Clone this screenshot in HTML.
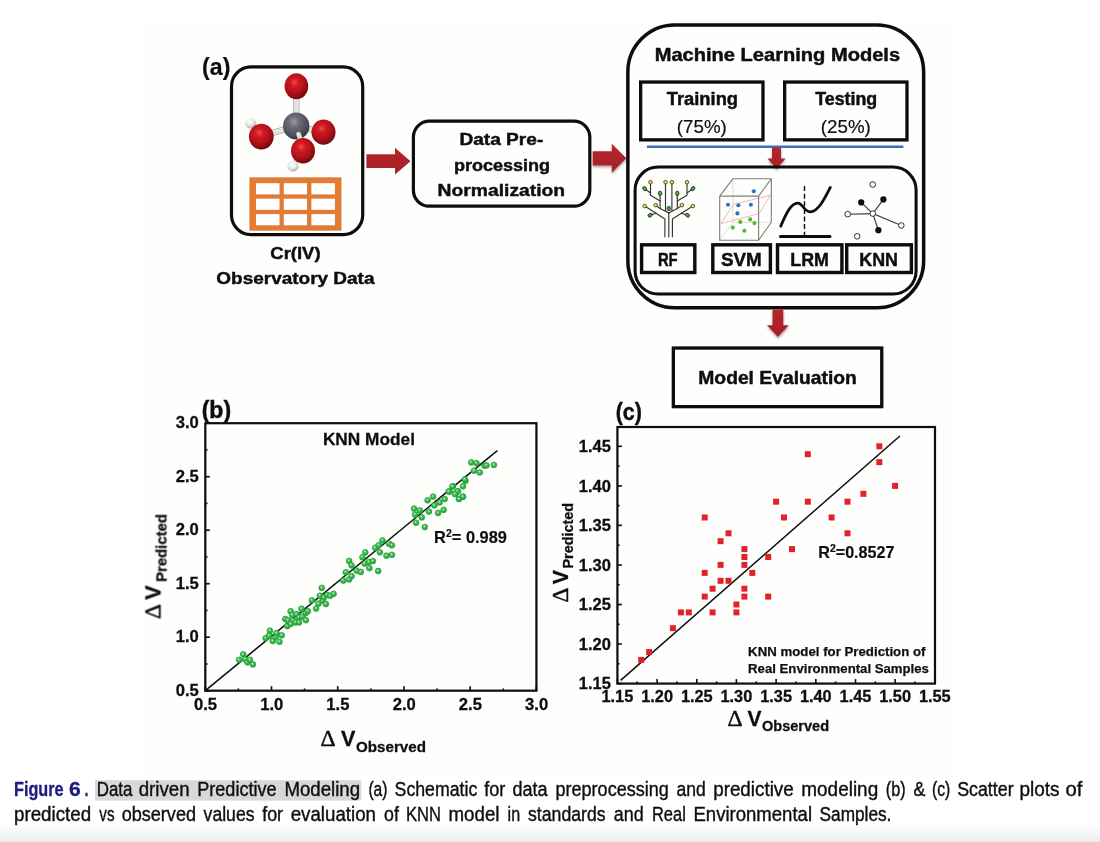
<!DOCTYPE html>
<html><head><meta charset="utf-8"><title>Figure 6</title>
<style>
html,body{margin:0;padding:0;background:#fff;}
body{width:1100px;height:842px;position:relative;overflow:hidden;font-family:"Liberation Sans", sans-serif;}
</style></head><body>
<svg width="1100" height="842" viewBox="0 0 1100 842" style="position:absolute;left:0;top:0" font-family='"Liberation Sans", sans-serif'>
<defs>
<radialGradient id="gRed" cx="0.42" cy="0.35" r="0.65"><stop offset="0" stop-color="#f04a48"/><stop offset="0.25" stop-color="#d01c22"/><stop offset="0.7" stop-color="#a90f16"/><stop offset="1" stop-color="#6d060b"/></radialGradient>
<radialGradient id="gGray" cx="0.42" cy="0.35" r="0.65"><stop offset="0" stop-color="#9a9aa6"/><stop offset="0.3" stop-color="#6e6e7a"/><stop offset="0.8" stop-color="#4c4c58"/><stop offset="1" stop-color="#33333d"/></radialGradient>
<radialGradient id="gWhite" cx="0.42" cy="0.35" r="0.7"><stop offset="0" stop-color="#ffffff"/><stop offset="0.5" stop-color="#e9e9e6"/><stop offset="1" stop-color="#a9a9a4"/></radialGradient>
<radialGradient id="gGreen" cx="0.42" cy="0.38" r="0.6"><stop offset="0" stop-color="#d6f3d9"/><stop offset="0.3" stop-color="#62c770"/><stop offset="0.6" stop-color="#36b449"/><stop offset="1" stop-color="#2aa83e"/></radialGradient>
<linearGradient id="gArrow" x1="0" y1="0" x2="0" y2="1"><stop offset="0" stop-color="#b3262c"/><stop offset="1" stop-color="#a92027"/></linearGradient>
<linearGradient id="gBottom" x1="0" y1="0" x2="0" y2="1"><stop offset="0" stop-color="#ffffff"/><stop offset="1" stop-color="#ececec"/></linearGradient>
<filter id="sh" x="-20%" y="-20%" width="150%" height="150%"><feDropShadow dx="0.2" dy="1.7" stdDeviation="1.1" flood-color="#1a2a2a" flood-opacity="0.4"/></filter>
<filter id="soft"><feGaussianBlur stdDeviation="0.55"/></filter>
<filter id="soft2"><feGaussianBlur stdDeviation="0.3"/></filter>
</defs>
<rect x="0" y="0" width="1100" height="842" fill="#ffffff"/>
<rect x="142" y="23" width="811" height="753" fill="#fefefd"/>
<rect x="0" y="825" width="1100" height="17" fill="url(#gBottom)"/>
<g filter="url(#soft)">
<text x="202.10" y="74.80" font-size="23.5" font-weight="bold" fill="#0d0d0d" stroke="#0d0d0d" stroke-width="0.2" stroke-linejoin="round" textLength="28.29" lengthAdjust="spacingAndGlyphs" >(a)</text>
<rect x="231.50" y="66.90" width="131.20" height="167.70" rx="19.5" ry="19.5" fill="none" stroke="#0a0a0a" stroke-width="3.2"/>
<line x1="296.3" y1="124" x2="296.4" y2="90" stroke="#8f8f8a" stroke-width="6" stroke-linecap="round"/>
<line x1="296.3" y1="124" x2="296.4" y2="90" stroke="#e4e4df" stroke-width="5" stroke-linecap="round"/>
<line x1="296.3" y1="126" x2="262" y2="136" stroke="#8f8f8a" stroke-width="6" stroke-linecap="round"/>
<line x1="296.3" y1="126" x2="262" y2="136" stroke="#e4e4df" stroke-width="5" stroke-linecap="round"/>
<line x1="296.3" y1="126" x2="322" y2="132" stroke="#8f8f8a" stroke-width="6" stroke-linecap="round"/>
<line x1="296.3" y1="126" x2="322" y2="132" stroke="#e4e4df" stroke-width="5" stroke-linecap="round"/>
<line x1="262" y1="136" x2="251" y2="123.5" stroke="#8f8f8a" stroke-width="4" stroke-linecap="round"/>
<line x1="262" y1="136" x2="251" y2="123.5" stroke="#e4e4df" stroke-width="3" stroke-linecap="round"/>
<line x1="302.8" y1="150" x2="293.5" y2="164.5" stroke="#8f8f8a" stroke-width="4" stroke-linecap="round"/>
<line x1="302.8" y1="150" x2="293.5" y2="164.5" stroke="#e4e4df" stroke-width="3" stroke-linecap="round"/>
<ellipse cx="250.6" cy="123.1" rx="5.4" ry="5.4" fill="url(#gWhite)"/>
<ellipse cx="296.4" cy="86.3" rx="11.8" ry="13" fill="url(#gRed)"/>
<ellipse cx="261.3" cy="136.6" rx="12.4" ry="12.8" fill="url(#gRed)"/>
<ellipse cx="323.5" cy="132.2" rx="12" ry="12.6" fill="url(#gRed)"/>
<ellipse cx="296.2" cy="126.0" rx="13.2" ry="13.6" fill="url(#gGray)"/>
<line x1="298.5" y1="134" x2="301.5" y2="142" stroke="#8f8f8a" stroke-width="5" stroke-linecap="round"/>
<line x1="298.5" y1="134" x2="301.5" y2="142" stroke="#e4e4df" stroke-width="4" stroke-linecap="round"/>
<ellipse cx="303.0" cy="150.8" rx="12" ry="12.8" fill="url(#gRed)"/>
<ellipse cx="293.0" cy="166.2" rx="5.5" ry="5.5" fill="url(#gWhite)"/>
<rect x="249.4" y="177.3" width="92.1" height="53.4" fill="#e27b36"/>
<rect x="256" y="183.2" width="23.5" height="11.2" fill="#fff"/>
<rect x="256" y="198.7" width="23.5" height="11.1" fill="#fff"/>
<rect x="256" y="214.1" width="23.5" height="11.2" fill="#fff"/>
<rect x="283.8" y="183.2" width="23.2" height="11.2" fill="#fff"/>
<rect x="283.8" y="198.7" width="23.2" height="11.1" fill="#fff"/>
<rect x="283.8" y="214.1" width="23.2" height="11.2" fill="#fff"/>
<rect x="311.4" y="183.2" width="23.5" height="11.2" fill="#fff"/>
<rect x="311.4" y="198.7" width="23.5" height="11.1" fill="#fff"/>
<rect x="311.4" y="214.1" width="23.5" height="11.2" fill="#fff"/>
<text x="270.30" y="258.60" font-size="17" font-weight="bold" fill="#0d0d0d" stroke="#0d0d0d" stroke-width="0.45" stroke-linejoin="round" textLength="50.29" lengthAdjust="spacingAndGlyphs" >Cr(IV)</text>
<text x="216.30" y="283.80" font-size="17" font-weight="bold" fill="#0d0d0d" stroke="#0d0d0d" stroke-width="0.45" stroke-linejoin="round" textLength="158.20" lengthAdjust="spacingAndGlyphs" >Observatory Data</text>
<path d="M366.4,154.29999999999998 L395,154.29999999999998 L395,147.79999999999998 L410.5,161.2 L395,174.6 L395,168.1 L366.4,168.1 Z" fill="url(#gArrow)"/>
<rect x="413.40" y="121.10" width="176.40" height="85.10" rx="16" ry="16" fill="none" stroke="#0a0a0a" stroke-width="3.2"/>
<text x="459.40" y="145.20" font-size="17.3" font-weight="bold" fill="#0d0d0d" stroke="#0d0d0d" stroke-width="0.45" stroke-linejoin="round" textLength="83.91" lengthAdjust="spacingAndGlyphs" >Data Pre-</text>
<text x="453.90" y="171.20" font-size="17.3" font-weight="bold" fill="#0d0d0d" stroke="#0d0d0d" stroke-width="0.45" stroke-linejoin="round" textLength="96.20" lengthAdjust="spacingAndGlyphs" >processing</text>
<text x="437.60" y="196.10" font-size="17.3" font-weight="bold" fill="#0d0d0d" stroke="#0d0d0d" stroke-width="0.45" stroke-linejoin="round" textLength="127.49" lengthAdjust="spacingAndGlyphs" >Normalization</text>
<path d="M592.7,151.20000000000002 L611.8,151.20000000000002 L611.8,143.8 L626.3,158.3 L611.8,172.8 L611.8,165.4 L592.7,165.4 Z" fill="url(#gArrow)" filter="url(#sh)"/>
<rect x="627.85" y="25.05" width="295.80" height="282.70" rx="47" ry="47" fill="none" stroke="#0a0a0a" stroke-width="3.5"/>
<text x="654.70" y="61.20" font-size="17.8" font-weight="bold" fill="#0d0d0d" stroke="#0d0d0d" stroke-width="0.45" stroke-linejoin="round" textLength="245.39" lengthAdjust="spacingAndGlyphs" >Machine Learning Models</text>
<rect x="640.65" y="82.05" width="122.30" height="57.80" fill="none" stroke="#0a0a0a" stroke-width="3.3"/>
<rect x="784.65" y="82.05" width="122.30" height="57.80" fill="none" stroke="#0a0a0a" stroke-width="3.3"/>
<text x="666.70" y="105.20" font-size="17.6" font-weight="bold" fill="#0d0d0d" stroke="#0d0d0d" stroke-width="0.45" stroke-linejoin="round" textLength="71.39" lengthAdjust="spacingAndGlyphs" >Training</text>
<text x="676.80" y="132.50" font-size="17.6" font-weight="normal" fill="#0d0d0d" stroke="#0d0d0d" stroke-width="0.15" stroke-linejoin="round" textLength="50.00" lengthAdjust="spacingAndGlyphs" >(75%)</text>
<text x="815.20" y="105.20" font-size="17.6" font-weight="bold" fill="#0d0d0d" stroke="#0d0d0d" stroke-width="0.45" stroke-linejoin="round" textLength="62.08" lengthAdjust="spacingAndGlyphs" >Testing</text>
<text x="820.80" y="132.50" font-size="17.6" font-weight="normal" fill="#0d0d0d" stroke="#0d0d0d" stroke-width="0.15" stroke-linejoin="round" textLength="50.00" lengthAdjust="spacingAndGlyphs" >(25%)</text>
<line x1="646.9" y1="146.8" x2="903.4" y2="146.8" stroke="#3f6cc0" stroke-width="2.4"/>
<path d="M772.0,147.5 L781.0,147.5 L781.0,158.5 L785.5,158.5 L776.5,169 L767.5,158.5 L772.0,158.5 Z" fill="url(#gArrow)" filter="url(#sh)"/>
<rect x="635.10" y="167.10" width="281.00" height="126.90" rx="23" ry="23" fill="none" stroke="#0a0a0a" stroke-width="3.0"/>
<rect x="641.60" y="244.80" width="53.20" height="27.70" fill="none" stroke="#0a0a0a" stroke-width="3.4"/>
<rect x="712.80" y="244.80" width="57.60" height="27.70" fill="none" stroke="#0a0a0a" stroke-width="3.4"/>
<rect x="777.50" y="244.80" width="64.40" height="27.70" fill="none" stroke="#0a0a0a" stroke-width="3.4"/>
<rect x="846.70" y="244.80" width="64.70" height="27.70" fill="none" stroke="#0a0a0a" stroke-width="3.4"/>
<text x="657.90" y="265.50" font-size="17.8" font-weight="bold" fill="#0d0d0d" stroke="#0d0d0d" stroke-width="0.45" stroke-linejoin="round" textLength="19.81" lengthAdjust="spacingAndGlyphs" >RF</text>
<text x="721.00" y="265.50" font-size="17.8" font-weight="bold" fill="#0d0d0d" stroke="#0d0d0d" stroke-width="0.45" stroke-linejoin="round" textLength="40.79" lengthAdjust="spacingAndGlyphs" >SVM</text>
<text x="790.30" y="265.50" font-size="17.8" font-weight="bold" fill="#0d0d0d" stroke="#0d0d0d" stroke-width="0.45" stroke-linejoin="round" textLength="38.62" lengthAdjust="spacingAndGlyphs" >LRM</text>
<text x="859.30" y="265.50" font-size="17.8" font-weight="bold" fill="#0d0d0d" stroke="#0d0d0d" stroke-width="0.45" stroke-linejoin="round" textLength="38.68" lengthAdjust="spacingAndGlyphs" >KNN</text>
<g fill="none" stroke="#333" stroke-width="1.15" stroke-linecap="round" stroke-linejoin="round">
<path d="M664.9,236.8 V219 L644.7,206.1"/>
<path d="M672.4,236.8 V219 L692.9,206.1"/>
<path d="M668.8,236.8 V213.1"/>
<path d="M668.8,213.1 L660.1,208.6 L655.7,205.2"/>
<path d="M668.8,213.1 L677.3,208.6 L681.9,205.2"/>
<path d="M660.1,208.6 V194.4"/>
<path d="M677.3,208.6 V194.4"/>
<path d="M660.1,201.1 L650.5,195.3 V182.4"/>
<path d="M677.3,201.1 L687,195.3 V182.4"/>
<path d="M650.5,193 L644.7,188.6"/>
<path d="M687,193 L692.9,188.6"/>
<path d="M665.5,211 V182.4"/>
<path d="M671.9,211 V182.4"/>
<path d="M656,213.2 L650.1,215.2"/>
<path d="M681.5,213.2 L687.5,215.2"/>
</g>
<circle cx="650.5" cy="182.2" r="1.8" fill="#f0df35" stroke="#2a2a2a" stroke-width="0.75"/>
<circle cx="665.5" cy="182.2" r="1.8" fill="#f0df35" stroke="#2a2a2a" stroke-width="0.75"/>
<circle cx="671.9" cy="182.2" r="1.8" fill="#f0df35" stroke="#2a2a2a" stroke-width="0.75"/>
<circle cx="687" cy="182.2" r="1.8" fill="#f0df35" stroke="#2a2a2a" stroke-width="0.75"/>
<circle cx="644.7" cy="206.1" r="1.8" fill="#f0df35" stroke="#2a2a2a" stroke-width="0.75"/>
<circle cx="655.7" cy="205.2" r="1.8" fill="#f0df35" stroke="#2a2a2a" stroke-width="0.75"/>
<circle cx="681.9" cy="205.2" r="1.8" fill="#f0df35" stroke="#2a2a2a" stroke-width="0.75"/>
<circle cx="692.9" cy="206.1" r="1.8" fill="#f0df35" stroke="#2a2a2a" stroke-width="0.75"/>
<ellipse cx="644.7" cy="188.6" rx="1.7" ry="2.3" transform="rotate(-40 644.7 188.6)" fill="#3fae3a" stroke="#1e1e1e" stroke-width="0.75"/>
<ellipse cx="692.9" cy="188.6" rx="1.7" ry="2.3" transform="rotate(40 692.9 188.6)" fill="#3fae3a" stroke="#1e1e1e" stroke-width="0.75"/>
<ellipse cx="660.1" cy="193.4" rx="1.7" ry="2.3" transform="rotate(0 660.1 193.4)" fill="#3fae3a" stroke="#1e1e1e" stroke-width="0.75"/>
<ellipse cx="677.3" cy="193.4" rx="1.7" ry="2.3" transform="rotate(0 677.3 193.4)" fill="#3fae3a" stroke="#1e1e1e" stroke-width="0.75"/>
<ellipse cx="668.8" cy="208.6" rx="1.7" ry="2.3" transform="rotate(0 668.8 208.6)" fill="#3fae3a" stroke="#1e1e1e" stroke-width="0.75"/>
<ellipse cx="650.1" cy="215.2" rx="1.7" ry="2.3" transform="rotate(60 650.1 215.2)" fill="#3fae3a" stroke="#1e1e1e" stroke-width="0.75"/>
<ellipse cx="687.5" cy="215.2" rx="1.7" ry="2.3" transform="rotate(-60 687.5 215.2)" fill="#3fae3a" stroke="#1e1e1e" stroke-width="0.75"/>
<g fill="none" stroke-linejoin="round">
<path d="M733,178.7 V222.3 H771.3 M733,222.3 L719.7,240.2" stroke="#d4d4d0" stroke-width="0.8"/>
<path d="M721,223.6 L733.4,204.4 L770.4,195.3 L759.2,213.6 Z" stroke="#f0a3a3" stroke-width="0.8"/>
<path d="M719.7,196.1 H758.6 V240.2 H719.7 Z M719.7,196.1 L733,178.7 H771.3 L758.6,196.1 M771.3,178.7 V222.3 L758.6,240.2" stroke="#7d7d7b" stroke-width="1.1"/>
</g>
<circle cx="753.8" cy="191.3" r="2.05" fill="#2f72bd"/>
<circle cx="728" cy="204.8" r="2.05" fill="#2f72bd"/>
<circle cx="738.4" cy="205.3" r="2.05" fill="#2f72bd"/>
<circle cx="750.9" cy="204.7" r="2.05" fill="#2f72bd"/>
<circle cx="737.4" cy="213.4" r="2.05" fill="#2f72bd"/>
<circle cx="740.3" cy="221.9" r="2.05" fill="#5cb531"/>
<circle cx="750.2" cy="219.4" r="2.05" fill="#5cb531"/>
<circle cx="754.4" cy="223.1" r="2.05" fill="#5cb531"/>
<circle cx="732.8" cy="227.6" r="2.05" fill="#5cb531"/>
<circle cx="744.4" cy="230.7" r="2.05" fill="#5cb531"/>
<line x1="780.5" y1="236.4" x2="830" y2="236.4" stroke="#0a0a0a" stroke-width="3.0" stroke-linecap="round"/>
<line x1="804.5" y1="186.1" x2="804.5" y2="236" stroke="#0a0a0a" stroke-width="1.4" stroke-dasharray="5 2.6"/>
<path d="M780.8,226.1 C786,214 791,203.2 797.6,203.2 C803.5,203.2 803.5,211.8 810.2,211.8 C818,211.8 824.5,199 830.3,187.4" fill="none" stroke="#0a0a0a" stroke-width="2.8" stroke-linecap="round"/>
<g stroke="#333" stroke-width="1.1">
<line x1="872.8" y1="213.6" x2="847.7" y2="214.2"/>
<line x1="872.8" y1="213.6" x2="861.2" y2="202.4"/>
<line x1="872.8" y1="213.6" x2="883.4" y2="199.4"/>
<line x1="872.8" y1="213.6" x2="878.4" y2="230.2"/>
<line x1="872.8" y1="213.6" x2="901.3" y2="225.5"/>
</g>
<circle cx="861.2" cy="202.4" r="3.1" fill="#0a0a0a"/>
<circle cx="883.4" cy="199.4" r="3.1" fill="#0a0a0a"/>
<circle cx="878.4" cy="230.2" r="3.1" fill="#0a0a0a"/>
<circle cx="872.8" cy="213.6" r="2.8" fill="#fff" stroke="#2e2e2e" stroke-width="1.0"/>
<circle cx="872.7" cy="184.5" r="2.8" fill="#fff" stroke="#2e2e2e" stroke-width="1.0"/>
<circle cx="847.7" cy="214.2" r="2.8" fill="#fff" stroke="#2e2e2e" stroke-width="1.0"/>
<circle cx="901.3" cy="225.5" r="2.8" fill="#fff" stroke="#2e2e2e" stroke-width="1.0"/>
<circle cx="857.2" cy="236.3" r="2.8" fill="#fff" stroke="#2e2e2e" stroke-width="1.0"/>
<path d="M772.5,309.5 L783.3,309.5 L783.3,325.3 L788.8,325.3 L777.9,336.9 L767.0,325.3 L772.5,325.3 Z" fill="url(#gArrow)" filter="url(#sh)"/>
<rect x="673.35" y="348.05" width="208.40" height="58.60" fill="none" stroke="#0a0a0a" stroke-width="3.3"/>
<text x="698.30" y="384.40" font-size="17.7" font-weight="bold" fill="#0d0d0d" stroke="#0d0d0d" stroke-width="0.45" stroke-linejoin="round" textLength="158.52" lengthAdjust="spacingAndGlyphs" >Model Evaluation</text>
<text x="201.70" y="417.60" font-size="23.5" font-weight="bold" fill="#0d0d0d" stroke="#0d0d0d" stroke-width="0.45" stroke-linejoin="round" textLength="29.39" lengthAdjust="spacingAndGlyphs" >(b)</text>
<rect x="205.3" y="423.2" width="331.1" height="267.5" fill="none" stroke="#0a0a0a" stroke-width="2.2"/>
<g stroke="#0a0a0a" stroke-width="1.6">
<line x1="205.3" y1="690.7" x2="205.3" y2="686.2"/>
<line x1="205.3" y1="690.7" x2="209.8" y2="690.7"/>
<line x1="238.4" y1="690.7" x2="238.4" y2="688.5"/>
<line x1="205.3" y1="664.0" x2="207.5" y2="664.0"/>
<line x1="271.5" y1="690.7" x2="271.5" y2="686.2"/>
<line x1="205.3" y1="637.2" x2="209.8" y2="637.2"/>
<line x1="304.6" y1="690.7" x2="304.6" y2="688.5"/>
<line x1="205.3" y1="610.5" x2="207.5" y2="610.5"/>
<line x1="337.7" y1="690.7" x2="337.7" y2="686.2"/>
<line x1="205.3" y1="583.7" x2="209.8" y2="583.7"/>
<line x1="370.9" y1="690.7" x2="370.9" y2="688.5"/>
<line x1="205.3" y1="557.0" x2="207.5" y2="557.0"/>
<line x1="404.0" y1="690.7" x2="404.0" y2="686.2"/>
<line x1="205.3" y1="530.2" x2="209.8" y2="530.2"/>
<line x1="437.1" y1="690.7" x2="437.1" y2="688.5"/>
<line x1="205.3" y1="503.4" x2="207.5" y2="503.4"/>
<line x1="470.2" y1="690.7" x2="470.2" y2="686.2"/>
<line x1="205.3" y1="476.7" x2="209.8" y2="476.7"/>
<line x1="503.3" y1="690.7" x2="503.3" y2="688.5"/>
<line x1="205.3" y1="449.9" x2="207.5" y2="449.9"/>
<line x1="536.4" y1="690.7" x2="536.4" y2="686.2"/>
<line x1="205.3" y1="423.2" x2="209.8" y2="423.2"/>
</g>
<text x="198.8" y="695.9" font-size="16.6" font-weight="bold" fill="#111" stroke="#111" stroke-width="0.3" text-anchor="end">0.5</text>
<text x="205.5" y="710.3" font-size="16.6" font-weight="bold" fill="#111" stroke="#111" stroke-width="0.3" text-anchor="middle">0.5</text>
<text x="198.8" y="642.4" font-size="16.6" font-weight="bold" fill="#111" stroke="#111" stroke-width="0.3" text-anchor="end">1.0</text>
<text x="271.7" y="710.3" font-size="16.6" font-weight="bold" fill="#111" stroke="#111" stroke-width="0.3" text-anchor="middle">1.0</text>
<text x="198.8" y="588.9" font-size="16.6" font-weight="bold" fill="#111" stroke="#111" stroke-width="0.3" text-anchor="end">1.5</text>
<text x="337.9" y="710.3" font-size="16.6" font-weight="bold" fill="#111" stroke="#111" stroke-width="0.3" text-anchor="middle">1.5</text>
<text x="198.8" y="535.4" font-size="16.6" font-weight="bold" fill="#111" stroke="#111" stroke-width="0.3" text-anchor="end">2.0</text>
<text x="404.2" y="710.3" font-size="16.6" font-weight="bold" fill="#111" stroke="#111" stroke-width="0.3" text-anchor="middle">2.0</text>
<text x="198.8" y="481.9" font-size="16.6" font-weight="bold" fill="#111" stroke="#111" stroke-width="0.3" text-anchor="end">2.5</text>
<text x="470.4" y="710.3" font-size="16.6" font-weight="bold" fill="#111" stroke="#111" stroke-width="0.3" text-anchor="middle">2.5</text>
<text x="198.8" y="428.4" font-size="16.6" font-weight="bold" fill="#111" stroke="#111" stroke-width="0.3" text-anchor="end">3.0</text>
<text x="536.6" y="710.3" font-size="16.6" font-weight="bold" fill="#111" stroke="#111" stroke-width="0.3" text-anchor="middle">3.0</text>
<text x="322.90" y="445.10" font-size="17" font-weight="bold" fill="#111" stroke="#111" stroke-width="0.3" stroke-linejoin="round" textLength="92.11" lengthAdjust="spacingAndGlyphs" >KNN Model</text>
<line x1="205.3" y1="690.7" x2="497.3" y2="450.6" stroke="#0a0a0a" stroke-width="1.5"/>
<text x="434.1" y="543" font-size="16.4" font-weight="bold" fill="#111" stroke="#111" stroke-width="0.2">R<tspan font-size="10.5" dy="-6.2">2</tspan><tspan dy="6.2">= 0.989</tspan></text>
<circle cx="239.1" cy="659.8" r="2.9" fill="url(#gGreen)" stroke="#23a038" stroke-width="0.7"/>
<circle cx="243.2" cy="654.3" r="2.9" fill="url(#gGreen)" stroke="#23a038" stroke-width="0.7"/>
<circle cx="245.2" cy="659.3" r="2.9" fill="url(#gGreen)" stroke="#23a038" stroke-width="0.7"/>
<circle cx="247.4" cy="662.3" r="2.9" fill="url(#gGreen)" stroke="#23a038" stroke-width="0.7"/>
<circle cx="249.9" cy="659.8" r="2.9" fill="url(#gGreen)" stroke="#23a038" stroke-width="0.7"/>
<circle cx="252.9" cy="664.4" r="2.9" fill="url(#gGreen)" stroke="#23a038" stroke-width="0.7"/>
<circle cx="265.7" cy="638.2" r="2.9" fill="url(#gGreen)" stroke="#23a038" stroke-width="0.7"/>
<circle cx="269.9" cy="630.7" r="2.9" fill="url(#gGreen)" stroke="#23a038" stroke-width="0.7"/>
<circle cx="269.0" cy="635.7" r="2.9" fill="url(#gGreen)" stroke="#23a038" stroke-width="0.7"/>
<circle cx="272.8" cy="641" r="2.9" fill="url(#gGreen)" stroke="#23a038" stroke-width="0.7"/>
<circle cx="275.7" cy="636.8" r="2.9" fill="url(#gGreen)" stroke="#23a038" stroke-width="0.7"/>
<circle cx="279.5" cy="641.8" r="2.9" fill="url(#gGreen)" stroke="#23a038" stroke-width="0.7"/>
<circle cx="281.8" cy="635.3" r="2.9" fill="url(#gGreen)" stroke="#23a038" stroke-width="0.7"/>
<circle cx="276.5" cy="633.2" r="2.9" fill="url(#gGreen)" stroke="#23a038" stroke-width="0.7"/>
<circle cx="285.3" cy="619" r="2.9" fill="url(#gGreen)" stroke="#23a038" stroke-width="0.7"/>
<circle cx="290.6" cy="611.2" r="2.9" fill="url(#gGreen)" stroke="#23a038" stroke-width="0.7"/>
<circle cx="287.8" cy="620.2" r="2.9" fill="url(#gGreen)" stroke="#23a038" stroke-width="0.7"/>
<circle cx="287.3" cy="626.2" r="2.9" fill="url(#gGreen)" stroke="#23a038" stroke-width="0.7"/>
<circle cx="292.3" cy="614.9" r="2.9" fill="url(#gGreen)" stroke="#23a038" stroke-width="0.7"/>
<circle cx="293.1" cy="620.7" r="2.9" fill="url(#gGreen)" stroke="#23a038" stroke-width="0.7"/>
<circle cx="290.6" cy="624" r="2.9" fill="url(#gGreen)" stroke="#23a038" stroke-width="0.7"/>
<circle cx="295.6" cy="622.4" r="2.9" fill="url(#gGreen)" stroke="#23a038" stroke-width="0.7"/>
<circle cx="296.5" cy="614.1" r="2.9" fill="url(#gGreen)" stroke="#23a038" stroke-width="0.7"/>
<circle cx="299" cy="617.4" r="2.9" fill="url(#gGreen)" stroke="#23a038" stroke-width="0.7"/>
<circle cx="299" cy="622.4" r="2.9" fill="url(#gGreen)" stroke="#23a038" stroke-width="0.7"/>
<circle cx="301.5" cy="608.7" r="2.9" fill="url(#gGreen)" stroke="#23a038" stroke-width="0.7"/>
<circle cx="302.3" cy="616.6" r="2.9" fill="url(#gGreen)" stroke="#23a038" stroke-width="0.7"/>
<circle cx="305.6" cy="613.2" r="2.9" fill="url(#gGreen)" stroke="#23a038" stroke-width="0.7"/>
<circle cx="305.9" cy="620.2" r="2.9" fill="url(#gGreen)" stroke="#23a038" stroke-width="0.7"/>
<circle cx="307.8" cy="611.2" r="2.9" fill="url(#gGreen)" stroke="#23a038" stroke-width="0.7"/>
<circle cx="311.9" cy="600.4" r="2.9" fill="url(#gGreen)" stroke="#23a038" stroke-width="0.7"/>
<circle cx="316.1" cy="608.6" r="2.9" fill="url(#gGreen)" stroke="#23a038" stroke-width="0.7"/>
<circle cx="318.4" cy="603.7" r="2.9" fill="url(#gGreen)" stroke="#23a038" stroke-width="0.7"/>
<circle cx="321.7" cy="587.9" r="2.9" fill="url(#gGreen)" stroke="#23a038" stroke-width="0.7"/>
<circle cx="319.8" cy="595.8" r="2.9" fill="url(#gGreen)" stroke="#23a038" stroke-width="0.7"/>
<circle cx="322.7" cy="600.7" r="2.9" fill="url(#gGreen)" stroke="#23a038" stroke-width="0.7"/>
<circle cx="323.9" cy="597.4" r="2.9" fill="url(#gGreen)" stroke="#23a038" stroke-width="0.7"/>
<circle cx="325.9" cy="604.1" r="2.9" fill="url(#gGreen)" stroke="#23a038" stroke-width="0.7"/>
<circle cx="327.2" cy="594.9" r="2.9" fill="url(#gGreen)" stroke="#23a038" stroke-width="0.7"/>
<circle cx="330.2" cy="595.8" r="2.9" fill="url(#gGreen)" stroke="#23a038" stroke-width="0.7"/>
<circle cx="333.6" cy="593.8" r="2.9" fill="url(#gGreen)" stroke="#23a038" stroke-width="0.7"/>
<circle cx="343.3" cy="580.6" r="2.9" fill="url(#gGreen)" stroke="#23a038" stroke-width="0.7"/>
<circle cx="345.8" cy="572.3" r="2.9" fill="url(#gGreen)" stroke="#23a038" stroke-width="0.7"/>
<circle cx="349.1" cy="579.4" r="2.9" fill="url(#gGreen)" stroke="#23a038" stroke-width="0.7"/>
<circle cx="351.6" cy="576.1" r="2.9" fill="url(#gGreen)" stroke="#23a038" stroke-width="0.7"/>
<circle cx="349.1" cy="561" r="2.9" fill="url(#gGreen)" stroke="#23a038" stroke-width="0.7"/>
<circle cx="351.6" cy="565.3" r="2.9" fill="url(#gGreen)" stroke="#23a038" stroke-width="0.7"/>
<circle cx="356.6" cy="570.6" r="2.9" fill="url(#gGreen)" stroke="#23a038" stroke-width="0.7"/>
<circle cx="360.8" cy="572" r="2.9" fill="url(#gGreen)" stroke="#23a038" stroke-width="0.7"/>
<circle cx="362.4" cy="557.3" r="2.9" fill="url(#gGreen)" stroke="#23a038" stroke-width="0.7"/>
<circle cx="365.3" cy="552.3" r="2.9" fill="url(#gGreen)" stroke="#23a038" stroke-width="0.7"/>
<circle cx="364.6" cy="563.6" r="2.9" fill="url(#gGreen)" stroke="#23a038" stroke-width="0.7"/>
<circle cx="369.1" cy="562" r="2.9" fill="url(#gGreen)" stroke="#23a038" stroke-width="0.7"/>
<circle cx="369.4" cy="568.1" r="2.9" fill="url(#gGreen)" stroke="#23a038" stroke-width="0.7"/>
<circle cx="372.9" cy="561.1" r="2.9" fill="url(#gGreen)" stroke="#23a038" stroke-width="0.7"/>
<circle cx="378.2" cy="571" r="2.9" fill="url(#gGreen)" stroke="#23a038" stroke-width="0.7"/>
<circle cx="375.2" cy="547.8" r="2.9" fill="url(#gGreen)" stroke="#23a038" stroke-width="0.7"/>
<circle cx="378.6" cy="545.3" r="2.9" fill="url(#gGreen)" stroke="#23a038" stroke-width="0.7"/>
<circle cx="379.9" cy="552.3" r="2.9" fill="url(#gGreen)" stroke="#23a038" stroke-width="0.7"/>
<circle cx="382.4" cy="540.4" r="2.9" fill="url(#gGreen)" stroke="#23a038" stroke-width="0.7"/>
<circle cx="386.5" cy="555.7" r="2.9" fill="url(#gGreen)" stroke="#23a038" stroke-width="0.7"/>
<circle cx="391.9" cy="554.8" r="2.9" fill="url(#gGreen)" stroke="#23a038" stroke-width="0.7"/>
<circle cx="389" cy="543.7" r="2.9" fill="url(#gGreen)" stroke="#23a038" stroke-width="0.7"/>
<circle cx="391.9" cy="545.3" r="2.9" fill="url(#gGreen)" stroke="#23a038" stroke-width="0.7"/>
<circle cx="414" cy="508.6" r="2.9" fill="url(#gGreen)" stroke="#23a038" stroke-width="0.7"/>
<circle cx="415.1" cy="514.6" r="2.9" fill="url(#gGreen)" stroke="#23a038" stroke-width="0.7"/>
<circle cx="416" cy="522.7" r="2.9" fill="url(#gGreen)" stroke="#23a038" stroke-width="0.7"/>
<circle cx="419.8" cy="510.4" r="2.9" fill="url(#gGreen)" stroke="#23a038" stroke-width="0.7"/>
<circle cx="421.8" cy="517.4" r="2.9" fill="url(#gGreen)" stroke="#23a038" stroke-width="0.7"/>
<circle cx="424.8" cy="527.1" r="2.9" fill="url(#gGreen)" stroke="#23a038" stroke-width="0.7"/>
<circle cx="427.6" cy="500.3" r="2.9" fill="url(#gGreen)" stroke="#23a038" stroke-width="0.7"/>
<circle cx="428.9" cy="511.6" r="2.9" fill="url(#gGreen)" stroke="#23a038" stroke-width="0.7"/>
<circle cx="433.1" cy="496.6" r="2.9" fill="url(#gGreen)" stroke="#23a038" stroke-width="0.7"/>
<circle cx="434.4" cy="505.3" r="2.9" fill="url(#gGreen)" stroke="#23a038" stroke-width="0.7"/>
<circle cx="438.1" cy="512.9" r="2.9" fill="url(#gGreen)" stroke="#23a038" stroke-width="0.7"/>
<circle cx="439.7" cy="502.4" r="2.9" fill="url(#gGreen)" stroke="#23a038" stroke-width="0.7"/>
<circle cx="443.6" cy="509.9" r="2.9" fill="url(#gGreen)" stroke="#23a038" stroke-width="0.7"/>
<circle cx="444.7" cy="499.1" r="2.9" fill="url(#gGreen)" stroke="#23a038" stroke-width="0.7"/>
<circle cx="449.4" cy="491.6" r="2.9" fill="url(#gGreen)" stroke="#23a038" stroke-width="0.7"/>
<circle cx="453" cy="486.3" r="2.9" fill="url(#gGreen)" stroke="#23a038" stroke-width="0.7"/>
<circle cx="455.5" cy="493.3" r="2.9" fill="url(#gGreen)" stroke="#23a038" stroke-width="0.7"/>
<circle cx="458" cy="491.3" r="2.9" fill="url(#gGreen)" stroke="#23a038" stroke-width="0.7"/>
<circle cx="458.9" cy="498.8" r="2.9" fill="url(#gGreen)" stroke="#23a038" stroke-width="0.7"/>
<circle cx="463" cy="496.6" r="2.9" fill="url(#gGreen)" stroke="#23a038" stroke-width="0.7"/>
<circle cx="463" cy="486.3" r="2.9" fill="url(#gGreen)" stroke="#23a038" stroke-width="0.7"/>
<circle cx="465.5" cy="480.8" r="2.9" fill="url(#gGreen)" stroke="#23a038" stroke-width="0.7"/>
<circle cx="464.8" cy="479.5" r="2.9" fill="url(#gGreen)" stroke="#23a038" stroke-width="0.7"/>
<circle cx="462.9" cy="496.8" r="2.9" fill="url(#gGreen)" stroke="#23a038" stroke-width="0.7"/>
<circle cx="459" cy="499" r="2.9" fill="url(#gGreen)" stroke="#23a038" stroke-width="0.7"/>
<circle cx="457.4" cy="491.5" r="2.9" fill="url(#gGreen)" stroke="#23a038" stroke-width="0.7"/>
<circle cx="454.9" cy="494" r="2.9" fill="url(#gGreen)" stroke="#23a038" stroke-width="0.7"/>
<circle cx="452.4" cy="486.5" r="2.9" fill="url(#gGreen)" stroke="#23a038" stroke-width="0.7"/>
<circle cx="448.7" cy="491.5" r="2.9" fill="url(#gGreen)" stroke="#23a038" stroke-width="0.7"/>
<circle cx="471.2" cy="462.4" r="2.9" fill="url(#gGreen)" stroke="#23a038" stroke-width="0.7"/>
<circle cx="476.5" cy="463.2" r="2.9" fill="url(#gGreen)" stroke="#23a038" stroke-width="0.7"/>
<circle cx="474" cy="470.7" r="2.9" fill="url(#gGreen)" stroke="#23a038" stroke-width="0.7"/>
<circle cx="479.8" cy="472.4" r="2.9" fill="url(#gGreen)" stroke="#23a038" stroke-width="0.7"/>
<circle cx="484.5" cy="465.7" r="2.9" fill="url(#gGreen)" stroke="#23a038" stroke-width="0.7"/>
<circle cx="486.5" cy="465.4" r="2.9" fill="url(#gGreen)" stroke="#23a038" stroke-width="0.7"/>
<circle cx="493.9" cy="464.9" r="2.9" fill="url(#gGreen)" stroke="#23a038" stroke-width="0.7"/>
<text x="320.5" y="746" font-size="23.5" font-family='"Liberation Serif", serif' fill="#111" stroke="#111" stroke-width="0.45">Δ</text>
<text x="341.00" y="746.00" font-size="21.5" font-weight="bold" fill="#111" stroke="#111" stroke-width="0.3" stroke-linejoin="round" textLength="14.39" lengthAdjust="spacingAndGlyphs" >V</text>
<text x="356.00" y="752.00" font-size="14.9" font-weight="bold" fill="#111" stroke="#111" stroke-width="0.3" stroke-linejoin="round" textLength="70.01" lengthAdjust="spacingAndGlyphs" >Observed</text>
<g transform="translate(160.5,618.6) rotate(-90)">
<text x="-0.5" y="0" font-size="23.5" font-family='"Liberation Serif", serif' fill="#111" stroke="#111" stroke-width="0.45">Δ</text>
<text x="18.80" y="0.00" font-size="21.5" font-weight="bold" fill="#111" stroke="#111" stroke-width="0.3" stroke-linejoin="round" textLength="14.49" lengthAdjust="spacingAndGlyphs" >V</text>
<text x="36.80" y="5.90" font-size="14.9" font-weight="bold" fill="#111" stroke="#111" stroke-width="0.3" stroke-linejoin="round" textLength="67.80" lengthAdjust="spacingAndGlyphs" >Predicted</text>
</g>
<text x="615.70" y="420.00" font-size="23.5" font-weight="bold" fill="#0d0d0d" stroke="#0d0d0d" stroke-width="0.45" stroke-linejoin="round" textLength="26.29" lengthAdjust="spacingAndGlyphs" >(c)</text>
<rect x="617.4" y="427" width="317.6" height="256.6" fill="none" stroke="#0a0a0a" stroke-width="2.2"/>
<g stroke="#0a0a0a" stroke-width="1.6">
<line x1="617.4" y1="683.6" x2="617.4" y2="679.1"/>
<line x1="617.4" y1="683.6" x2="621.9" y2="683.6"/>
<line x1="637.2" y1="683.6" x2="637.2" y2="681.4"/>
<line x1="617.4" y1="663.8" x2="619.6" y2="663.8"/>
<line x1="657.1" y1="683.6" x2="657.1" y2="679.1"/>
<line x1="617.4" y1="644.0" x2="621.9" y2="644.0"/>
<line x1="676.9" y1="683.6" x2="676.9" y2="681.4"/>
<line x1="617.4" y1="624.3" x2="619.6" y2="624.3"/>
<line x1="696.8" y1="683.6" x2="696.8" y2="679.1"/>
<line x1="617.4" y1="604.5" x2="621.9" y2="604.5"/>
<line x1="716.6" y1="683.6" x2="716.6" y2="681.4"/>
<line x1="617.4" y1="584.7" x2="619.6" y2="584.7"/>
<line x1="736.4" y1="683.6" x2="736.4" y2="679.1"/>
<line x1="617.4" y1="565.0" x2="621.9" y2="565.0"/>
<line x1="756.3" y1="683.6" x2="756.3" y2="681.4"/>
<line x1="617.4" y1="545.2" x2="619.6" y2="545.2"/>
<line x1="776.1" y1="683.6" x2="776.1" y2="679.1"/>
<line x1="617.4" y1="525.4" x2="621.9" y2="525.4"/>
<line x1="795.9" y1="683.6" x2="795.9" y2="681.4"/>
<line x1="617.4" y1="505.6" x2="619.6" y2="505.6"/>
<line x1="815.8" y1="683.6" x2="815.8" y2="679.1"/>
<line x1="617.4" y1="485.9" x2="621.9" y2="485.9"/>
<line x1="835.6" y1="683.6" x2="835.6" y2="681.4"/>
<line x1="617.4" y1="466.1" x2="619.6" y2="466.1"/>
<line x1="855.5" y1="683.6" x2="855.5" y2="679.1"/>
<line x1="617.4" y1="446.3" x2="621.9" y2="446.3"/>
<line x1="875.3" y1="683.6" x2="875.3" y2="681.4"/>
<line x1="895.1" y1="683.6" x2="895.1" y2="679.1"/>
<line x1="915.0" y1="683.6" x2="915.0" y2="681.4"/>
<line x1="934.8" y1="683.6" x2="934.8" y2="679.1"/>
</g>
<text x="617.4" y="702.4" font-size="16.5" font-weight="bold" fill="#111" stroke="#111" stroke-width="0.3" text-anchor="middle" textLength="31.8" lengthAdjust="spacingAndGlyphs">1.15</text>
<text x="610.9" y="689.2" font-size="16.5" font-weight="bold" fill="#111" stroke="#111" stroke-width="0.3" text-anchor="end">1.15</text>
<text x="657.1" y="702.4" font-size="16.5" font-weight="bold" fill="#111" stroke="#111" stroke-width="0.3" text-anchor="middle" textLength="31.8" lengthAdjust="spacingAndGlyphs">1.20</text>
<text x="610.9" y="649.6" font-size="16.5" font-weight="bold" fill="#111" stroke="#111" stroke-width="0.3" text-anchor="end">1.20</text>
<text x="696.8" y="702.4" font-size="16.5" font-weight="bold" fill="#111" stroke="#111" stroke-width="0.3" text-anchor="middle" textLength="31.8" lengthAdjust="spacingAndGlyphs">1.25</text>
<text x="610.9" y="610.1" font-size="16.5" font-weight="bold" fill="#111" stroke="#111" stroke-width="0.3" text-anchor="end">1.25</text>
<text x="736.4" y="702.4" font-size="16.5" font-weight="bold" fill="#111" stroke="#111" stroke-width="0.3" text-anchor="middle" textLength="31.8" lengthAdjust="spacingAndGlyphs">1.30</text>
<text x="610.9" y="570.6" font-size="16.5" font-weight="bold" fill="#111" stroke="#111" stroke-width="0.3" text-anchor="end">1.30</text>
<text x="776.1" y="702.4" font-size="16.5" font-weight="bold" fill="#111" stroke="#111" stroke-width="0.3" text-anchor="middle" textLength="31.8" lengthAdjust="spacingAndGlyphs">1.35</text>
<text x="610.9" y="531.0" font-size="16.5" font-weight="bold" fill="#111" stroke="#111" stroke-width="0.3" text-anchor="end">1.35</text>
<text x="815.8" y="702.4" font-size="16.5" font-weight="bold" fill="#111" stroke="#111" stroke-width="0.3" text-anchor="middle" textLength="31.8" lengthAdjust="spacingAndGlyphs">1.40</text>
<text x="610.9" y="491.5" font-size="16.5" font-weight="bold" fill="#111" stroke="#111" stroke-width="0.3" text-anchor="end">1.40</text>
<text x="855.5" y="702.4" font-size="16.5" font-weight="bold" fill="#111" stroke="#111" stroke-width="0.3" text-anchor="middle" textLength="31.8" lengthAdjust="spacingAndGlyphs">1.45</text>
<text x="610.9" y="451.9" font-size="16.5" font-weight="bold" fill="#111" stroke="#111" stroke-width="0.3" text-anchor="end">1.45</text>
<text x="895.1" y="702.4" font-size="16.5" font-weight="bold" fill="#111" stroke="#111" stroke-width="0.3" text-anchor="middle" textLength="31.8" lengthAdjust="spacingAndGlyphs">1.50</text>
<text x="934.8" y="702.4" font-size="16.5" font-weight="bold" fill="#111" stroke="#111" stroke-width="0.3" text-anchor="middle" textLength="31.8" lengthAdjust="spacingAndGlyphs">1.55</text>
<line x1="620.6" y1="680.4" x2="899.9" y2="436.0" stroke="#0a0a0a" stroke-width="1.5"/>
<rect x="638.2" y="656.9" width="6" height="6" fill="#e0242c"/>
<rect x="646.1" y="649.0" width="6" height="6" fill="#e0242c"/>
<rect x="669.9" y="625.2" width="6" height="6" fill="#e0242c"/>
<rect x="677.9" y="609.4" width="6" height="6" fill="#e0242c"/>
<rect x="685.8" y="609.4" width="6" height="6" fill="#e0242c"/>
<rect x="709.6" y="609.4" width="6" height="6" fill="#e0242c"/>
<rect x="733.4" y="609.4" width="6" height="6" fill="#e0242c"/>
<rect x="733.4" y="601.5" width="6" height="6" fill="#e0242c"/>
<rect x="701.7" y="593.6" width="6" height="6" fill="#e0242c"/>
<rect x="741.4" y="593.6" width="6" height="6" fill="#e0242c"/>
<rect x="765.2" y="593.6" width="6" height="6" fill="#e0242c"/>
<rect x="709.6" y="585.7" width="6" height="6" fill="#e0242c"/>
<rect x="741.4" y="585.7" width="6" height="6" fill="#e0242c"/>
<rect x="717.6" y="577.8" width="6" height="6" fill="#e0242c"/>
<rect x="725.5" y="577.8" width="6" height="6" fill="#e0242c"/>
<rect x="701.7" y="569.9" width="6" height="6" fill="#e0242c"/>
<rect x="749.3" y="569.9" width="6" height="6" fill="#e0242c"/>
<rect x="717.6" y="561.9" width="6" height="6" fill="#e0242c"/>
<rect x="741.4" y="561.9" width="6" height="6" fill="#e0242c"/>
<rect x="741.4" y="554.0" width="6" height="6" fill="#e0242c"/>
<rect x="765.2" y="554.0" width="6" height="6" fill="#e0242c"/>
<rect x="741.4" y="546.1" width="6" height="6" fill="#e0242c"/>
<rect x="789.0" y="546.1" width="6" height="6" fill="#e0242c"/>
<rect x="717.6" y="538.2" width="6" height="6" fill="#e0242c"/>
<rect x="725.5" y="530.3" width="6" height="6" fill="#e0242c"/>
<rect x="844.5" y="530.3" width="6" height="6" fill="#e0242c"/>
<rect x="701.7" y="514.5" width="6" height="6" fill="#e0242c"/>
<rect x="781.0" y="514.5" width="6" height="6" fill="#e0242c"/>
<rect x="828.6" y="514.5" width="6" height="6" fill="#e0242c"/>
<rect x="773.1" y="498.7" width="6" height="6" fill="#e0242c"/>
<rect x="804.8" y="498.7" width="6" height="6" fill="#e0242c"/>
<rect x="844.5" y="498.7" width="6" height="6" fill="#e0242c"/>
<rect x="860.4" y="490.8" width="6" height="6" fill="#e0242c"/>
<rect x="892.1" y="482.9" width="6" height="6" fill="#e0242c"/>
<rect x="876.3" y="459.1" width="6" height="6" fill="#e0242c"/>
<rect x="804.8" y="451.2" width="6" height="6" fill="#e0242c"/>
<rect x="876.3" y="443.3" width="6" height="6" fill="#e0242c"/>
<text x="818.3" y="558.4" font-size="16.1" font-weight="bold" fill="#111" stroke="#111" stroke-width="0.2">R<tspan font-size="10.5" dy="-6.2">2</tspan><tspan dy="6.2">=0.8527</tspan></text>
<text x="748.10" y="656.00" font-size="12.8" font-weight="bold" fill="#111" stroke="#111" stroke-width="0.25" stroke-linejoin="round" textLength="177.36" lengthAdjust="spacingAndGlyphs" >KNN model for Prediction of</text>
<text x="748.10" y="673.00" font-size="12.8" font-weight="bold" fill="#111" stroke="#111" stroke-width="0.25" stroke-linejoin="round" textLength="180.80" lengthAdjust="spacingAndGlyphs" >Real Environmental Samples</text>
<text x="727.5" y="725.6" font-size="23.5" font-family='"Liberation Serif", serif' fill="#111" stroke="#111" stroke-width="0.45">Δ</text>
<text x="747.50" y="725.60" font-size="21.5" font-weight="bold" fill="#111" stroke="#111" stroke-width="0.3" stroke-linejoin="round" textLength="13.99" lengthAdjust="spacingAndGlyphs" >V</text>
<text x="762.00" y="731.00" font-size="14.9" font-weight="bold" fill="#111" stroke="#111" stroke-width="0.3" stroke-linejoin="round" textLength="67.01" lengthAdjust="spacingAndGlyphs" >Observed</text>
<g transform="translate(567.6,602.3) rotate(-90)">
<text x="-0.5" y="0" font-size="23.5" font-family='"Liberation Serif", serif' fill="#111" stroke="#111" stroke-width="0.45">Δ</text>
<text x="18.10" y="0.00" font-size="21.5" font-weight="bold" fill="#111" stroke="#111" stroke-width="0.3" stroke-linejoin="round" textLength="14.19" lengthAdjust="spacingAndGlyphs" >V</text>
<text x="33.70" y="5.40" font-size="14.9" font-weight="bold" fill="#111" stroke="#111" stroke-width="0.3" stroke-linejoin="round" textLength="65.80" lengthAdjust="spacingAndGlyphs" >Predicted</text>
</g>
</g>
<g filter="url(#soft2)">
<rect x="95" y="780.2" width="266.3" height="20.4" fill="#d8d8d8"/>
<text x="14.00" y="796.40" font-size="19.6" font-weight="bold" fill="#1b1b7e" stroke="#1b1b7e" stroke-width="0.3" stroke-linejoin="round" textLength="49.61" lengthAdjust="spacingAndGlyphs" >Figure</text>
<text x="68.90" y="796.40" font-size="19.6" font-weight="bold" fill="#1b1b7e" stroke="#1b1b7e" stroke-width="0.3" stroke-linejoin="round" textLength="11.72" lengthAdjust="spacingAndGlyphs" >6</text>
<text x="84.60" y="796.40" font-size="19.6" font-weight="bold" fill="#1b1b7e" stroke="#1b1b7e" stroke-width="0.3" stroke-linejoin="round" textLength="4.01" lengthAdjust="spacingAndGlyphs" >.</text>
<text x="96.70" y="796.40" font-size="19.6" font-weight="normal" fill="#111" stroke="#111" stroke-width="0.4" stroke-linejoin="round" textLength="35.70" lengthAdjust="spacingAndGlyphs" >Data</text>
<text x="138.70" y="796.40" font-size="19.6" font-weight="normal" fill="#111" stroke="#111" stroke-width="0.4" stroke-linejoin="round" textLength="50.92" lengthAdjust="spacingAndGlyphs" >driven</text>
<text x="197.30" y="796.40" font-size="19.6" font-weight="normal" fill="#111" stroke="#111" stroke-width="0.4" stroke-linejoin="round" textLength="79.21" lengthAdjust="spacingAndGlyphs" >Predictive</text>
<text x="284.40" y="796.40" font-size="19.6" font-weight="normal" fill="#111" stroke="#111" stroke-width="0.4" stroke-linejoin="round" textLength="75.61" lengthAdjust="spacingAndGlyphs" >Modeling</text>
<text x="368.40" y="796.40" font-size="19.6" font-weight="normal" fill="#111" stroke="#111" stroke-width="0.4" stroke-linejoin="round" textLength="19.10" lengthAdjust="spacingAndGlyphs" >(a)</text>
<text x="394.60" y="796.40" font-size="19.6" font-weight="normal" fill="#111" stroke="#111" stroke-width="0.4" stroke-linejoin="round" textLength="82.72" lengthAdjust="spacingAndGlyphs" >Schematic</text>
<text x="484.20" y="796.40" font-size="19.6" font-weight="normal" fill="#111" stroke="#111" stroke-width="0.4" stroke-linejoin="round" textLength="21.19" lengthAdjust="spacingAndGlyphs" >for</text>
<text x="512.50" y="796.40" font-size="19.6" font-weight="normal" fill="#111" stroke="#111" stroke-width="0.4" stroke-linejoin="round" textLength="35.08" lengthAdjust="spacingAndGlyphs" >data</text>
<text x="555.50" y="796.40" font-size="19.6" font-weight="normal" fill="#111" stroke="#111" stroke-width="0.4" stroke-linejoin="round" textLength="113.28" lengthAdjust="spacingAndGlyphs" >preprocessing</text>
<text x="676.40" y="796.40" font-size="19.6" font-weight="normal" fill="#111" stroke="#111" stroke-width="0.4" stroke-linejoin="round" textLength="29.32" lengthAdjust="spacingAndGlyphs" >and</text>
<text x="713.20" y="796.40" font-size="19.6" font-weight="normal" fill="#111" stroke="#111" stroke-width="0.4" stroke-linejoin="round" textLength="80.50" lengthAdjust="spacingAndGlyphs" >predictive</text>
<text x="801.30" y="796.40" font-size="19.6" font-weight="normal" fill="#111" stroke="#111" stroke-width="0.4" stroke-linejoin="round" textLength="76.91" lengthAdjust="spacingAndGlyphs" >modeling</text>
<text x="885.80" y="796.40" font-size="19.6" font-weight="normal" fill="#111" stroke="#111" stroke-width="0.4" stroke-linejoin="round" textLength="19.89" lengthAdjust="spacingAndGlyphs" >(b)</text>
<text x="913.50" y="796.40" font-size="19.6" font-weight="normal" fill="#111" stroke="#111" stroke-width="0.4" stroke-linejoin="round" textLength="11.89" lengthAdjust="spacingAndGlyphs" >&amp;</text>
<text x="932.00" y="796.40" font-size="19.6" font-weight="normal" fill="#111" stroke="#111" stroke-width="0.4" stroke-linejoin="round" textLength="18.32" lengthAdjust="spacingAndGlyphs" >(c)</text>
<text x="957.20" y="796.40" font-size="19.6" font-weight="normal" fill="#111" stroke="#111" stroke-width="0.4" stroke-linejoin="round" textLength="56.41" lengthAdjust="spacingAndGlyphs" >Scatter</text>
<text x="1019.50" y="796.40" font-size="19.6" font-weight="normal" fill="#111" stroke="#111" stroke-width="0.4" stroke-linejoin="round" textLength="40.10" lengthAdjust="spacingAndGlyphs" >plots</text>
<text x="1065.50" y="796.40" font-size="19.6" font-weight="normal" fill="#111" stroke="#111" stroke-width="0.4" stroke-linejoin="round" textLength="16.88" lengthAdjust="spacingAndGlyphs" >of</text>
<text x="14.00" y="820.60" font-size="19.6" font-weight="normal" fill="#111" stroke="#111" stroke-width="0.4" stroke-linejoin="round" textLength="77.08" lengthAdjust="spacingAndGlyphs" >predicted</text>
<text x="99.30" y="820.60" font-size="19.6" font-weight="normal" fill="#111" stroke="#111" stroke-width="0.4" stroke-linejoin="round" textLength="15.20" lengthAdjust="spacingAndGlyphs" >vs</text>
<text x="121.70" y="820.60" font-size="19.6" font-weight="normal" fill="#111" stroke="#111" stroke-width="0.4" stroke-linejoin="round" textLength="74.28" lengthAdjust="spacingAndGlyphs" >observed</text>
<text x="203.60" y="820.60" font-size="19.6" font-weight="normal" fill="#111" stroke="#111" stroke-width="0.4" stroke-linejoin="round" textLength="50.91" lengthAdjust="spacingAndGlyphs" >values</text>
<text x="262.20" y="820.60" font-size="19.6" font-weight="normal" fill="#111" stroke="#111" stroke-width="0.4" stroke-linejoin="round" textLength="20.89" lengthAdjust="spacingAndGlyphs" >for</text>
<text x="290.70" y="820.60" font-size="19.6" font-weight="normal" fill="#111" stroke="#111" stroke-width="0.4" stroke-linejoin="round" textLength="85.29" lengthAdjust="spacingAndGlyphs" >evaluation</text>
<text x="384.10" y="820.60" font-size="19.6" font-weight="normal" fill="#111" stroke="#111" stroke-width="0.4" stroke-linejoin="round" textLength="14.78" lengthAdjust="spacingAndGlyphs" >of</text>
<text x="406.00" y="820.60" font-size="19.6" font-weight="normal" fill="#111" stroke="#111" stroke-width="0.4" stroke-linejoin="round" textLength="34.88" lengthAdjust="spacingAndGlyphs" >KNN</text>
<text x="448.50" y="820.60" font-size="19.6" font-weight="normal" fill="#111" stroke="#111" stroke-width="0.4" stroke-linejoin="round" textLength="51.02" lengthAdjust="spacingAndGlyphs" >model</text>
<text x="507.60" y="820.60" font-size="19.6" font-weight="normal" fill="#111" stroke="#111" stroke-width="0.4" stroke-linejoin="round" textLength="12.51" lengthAdjust="spacingAndGlyphs" >in</text>
<text x="528.00" y="820.60" font-size="19.6" font-weight="normal" fill="#111" stroke="#111" stroke-width="0.4" stroke-linejoin="round" textLength="77.59" lengthAdjust="spacingAndGlyphs" >standards</text>
<text x="613.80" y="820.60" font-size="19.6" font-weight="normal" fill="#111" stroke="#111" stroke-width="0.4" stroke-linejoin="round" textLength="30.02" lengthAdjust="spacingAndGlyphs" >and</text>
<text x="652.00" y="820.60" font-size="19.6" font-weight="normal" fill="#111" stroke="#111" stroke-width="0.4" stroke-linejoin="round" textLength="33.79" lengthAdjust="spacingAndGlyphs" >Real</text>
<text x="693.50" y="820.60" font-size="19.6" font-weight="normal" fill="#111" stroke="#111" stroke-width="0.4" stroke-linejoin="round" textLength="118.50" lengthAdjust="spacingAndGlyphs" >Environmental</text>
<text x="819.60" y="820.60" font-size="19.6" font-weight="normal" fill="#111" stroke="#111" stroke-width="0.4" stroke-linejoin="round" textLength="71.82" lengthAdjust="spacingAndGlyphs" >Samples.</text>
</g>
</svg>
</body></html>
